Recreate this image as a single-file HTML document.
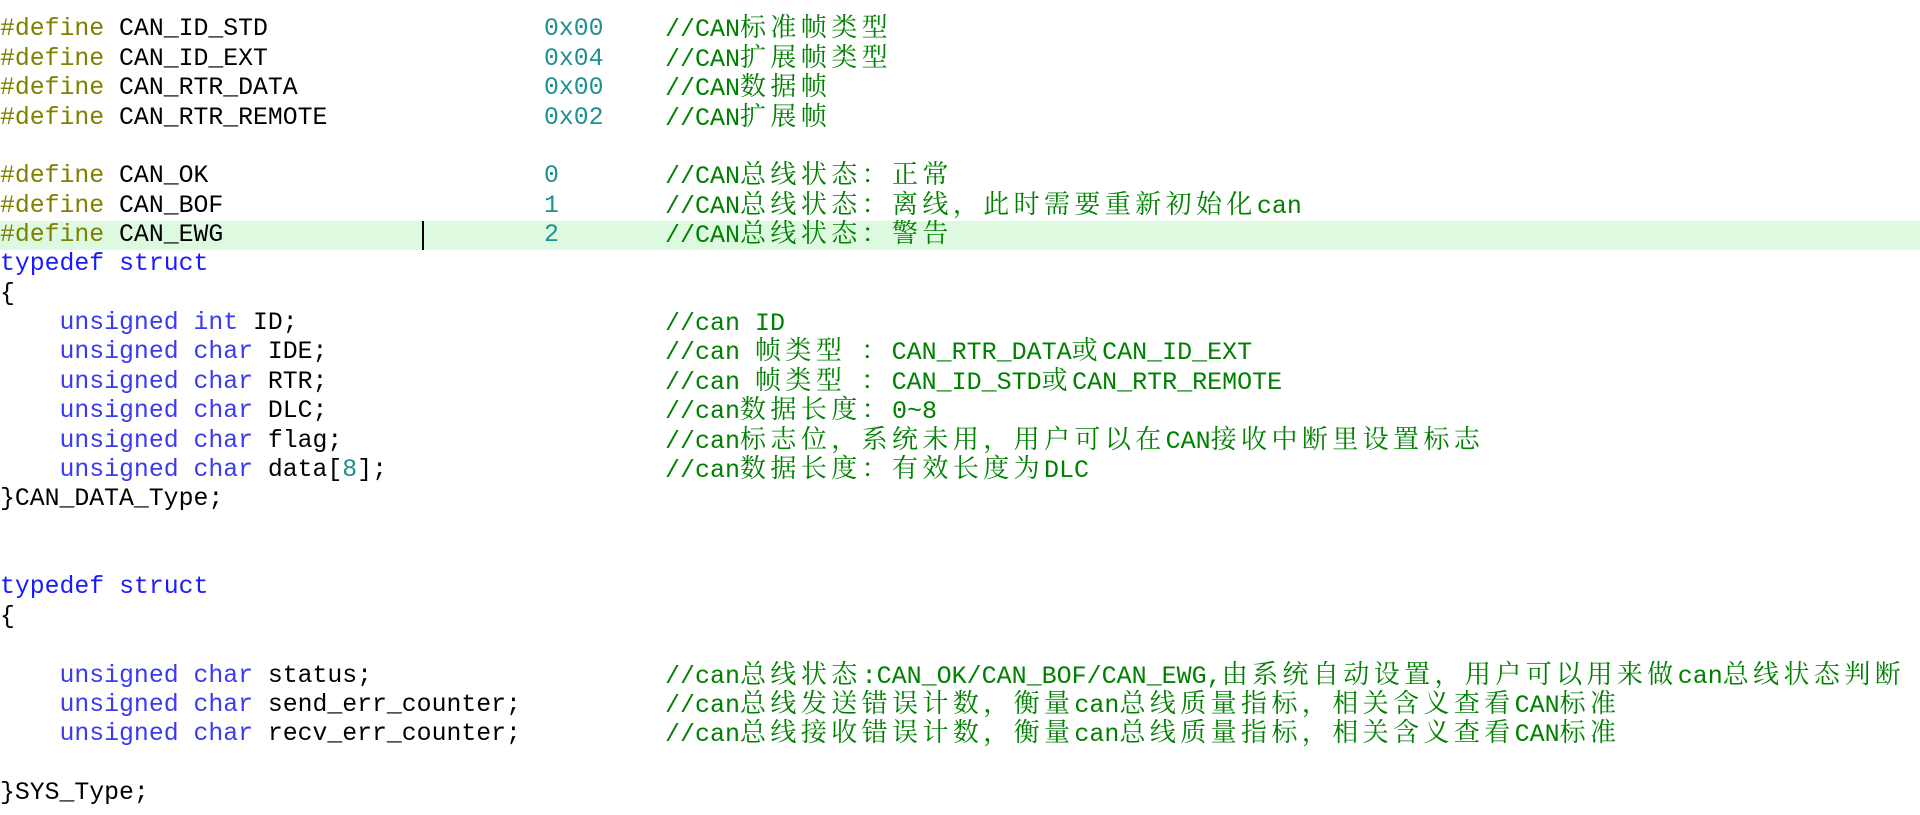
<!DOCTYPE html>
<html>
<head>
<meta charset="utf-8">
<style>
  html, body { margin:0; padding:0; background:#ffffff; }
  body { width:1920px; height:815px; overflow:hidden; position:relative; }
  .hl { position:absolute; left:0; top:221px; width:1920px; height:29.4px; background:#ddfae0; }
  .cur { position:absolute; left:422px; top:221px; width:1.5px; height:29.4px; background:#000; }
  .ln { position:absolute; left:0; height:29.37px; line-height:29.37px; white-space:pre;
        font-family:"Liberation Mono", monospace; font-size:24.8px; color:#000; }
  .pp { color:#808000; }
  .kw { color:#1a1aff; }
  .ty { color:#3a3af0; }
  .nm { color:#1f9090; }
  .num { position:absolute; left:544px; top:0; color:#1f9090; }
  .cm { position:absolute; left:665px; top:0; color:#008000; font-size:25px;
        font-family:"Liberation Mono", "Noto Serif CJK SC", monospace; }
  .j { font-family:"Noto Serif CJK SC", "Noto Sans CJK SC", serif; font-size:26px; letter-spacing:4.4px; line-height:0; }
</style>
</head>
<body>
<div class="hl"></div>

<div class="ln" style="top:15.4px"><span class="pp">#define</span> CAN_ID_STD<span class="num">0x00</span><span class="cm">//CAN<span class="j">标准帧类型</span></span></div>
<div class="ln" style="top:44.77px"><span class="pp">#define</span> CAN_ID_EXT<span class="num">0x04</span><span class="cm">//CAN<span class="j">扩展帧类型</span></span></div>
<div class="ln" style="top:74.14px"><span class="pp">#define</span> CAN_RTR_DATA<span class="num">0x00</span><span class="cm">//CAN<span class="j">数据帧</span></span></div>
<div class="ln" style="top:103.51px"><span class="pp">#define</span> CAN_RTR_REMOTE<span class="num">0x02</span><span class="cm">//CAN<span class="j">扩展帧</span></span></div>

<div class="ln" style="top:162.25px"><span class="pp">#define</span> CAN_OK<span class="num">0</span><span class="cm">//CAN<span class="j">总线状态：正常</span></span></div>
<div class="ln" style="top:191.62px"><span class="pp">#define</span> CAN_BOF<span class="num">1</span><span class="cm">//CAN<span class="j">总线状态：离线，此时需要重新初始化</span>can</span></div>
<div class="ln" style="top:220.99px"><span class="pp">#define</span> CAN_EWG<span class="num">2</span><span class="cm">//CAN<span class="j">总线状态：警告</span></span></div>
<div class="ln" style="top:250.36px"><span class="kw">typedef</span> <span class="kw">struct</span></div>
<div class="ln" style="top:279.73px">{</div>
<div class="ln" style="top:309.1px">    <span class="ty">unsigned</span> <span class="ty">int</span> ID;<span class="cm">//can ID</span></div>
<div class="ln" style="top:338.47px">    <span class="ty">unsigned</span> <span class="ty">char</span> IDE;<span class="cm">//can <span class="j">帧类型</span> <span class="j">：</span>CAN_RTR_DATA<span class="j">或</span>CAN_ID_EXT</span></div>
<div class="ln" style="top:367.84px">    <span class="ty">unsigned</span> <span class="ty">char</span> RTR;<span class="cm">//can <span class="j">帧类型</span> <span class="j">：</span>CAN_ID_STD<span class="j">或</span>CAN_RTR_REMOTE</span></div>
<div class="ln" style="top:397.21px">    <span class="ty">unsigned</span> <span class="ty">char</span> DLC;<span class="cm">//can<span class="j">数据长度：</span>0~8</span></div>
<div class="ln" style="top:426.58px">    <span class="ty">unsigned</span> <span class="ty">char</span> flag;<span class="cm">//can<span class="j">标志位，系统未用，用户可以在</span>CAN<span class="j">接收中断里设置标志</span></span></div>
<div class="ln" style="top:455.95px">    <span class="ty">unsigned</span> <span class="ty">char</span> data[<span class="nm">8</span>];<span class="cm">//can<span class="j">数据长度：有效长度为</span>DLC</span></div>
<div class="ln" style="top:485.32px">}CAN_DATA_Type;</div>

<div class="ln" style="top:573.43px"><span class="kw">typedef</span> <span class="kw">struct</span></div>
<div class="ln" style="top:602.8px">{</div>

<div class="ln" style="top:661.54px">    <span class="ty">unsigned</span> <span class="ty">char</span> status;<span class="cm">//can<span class="j">总线状态</span>:CAN_OK/CAN_BOF/CAN_EWG,<span class="j">由系统自动设置，用户可以用来做</span>can<span class="j">总线状态判断</span></span></div>
<div class="ln" style="top:690.91px">    <span class="ty">unsigned</span> <span class="ty">char</span> send_err_counter;<span class="cm">//can<span class="j">总线发送错误计数，衡量</span>can<span class="j">总线质量指标，相关含义查看</span>CAN<span class="j">标准</span></span></div>
<div class="ln" style="top:720.28px">    <span class="ty">unsigned</span> <span class="ty">char</span> recv_err_counter;<span class="cm">//can<span class="j">总线接收错误计数，衡量</span>can<span class="j">总线质量指标，相关含义查看</span>CAN<span class="j">标准</span></span></div>

<div class="ln" style="top:779.02px">}SYS_Type;</div>

<div class="cur"></div>
</body>
</html>
